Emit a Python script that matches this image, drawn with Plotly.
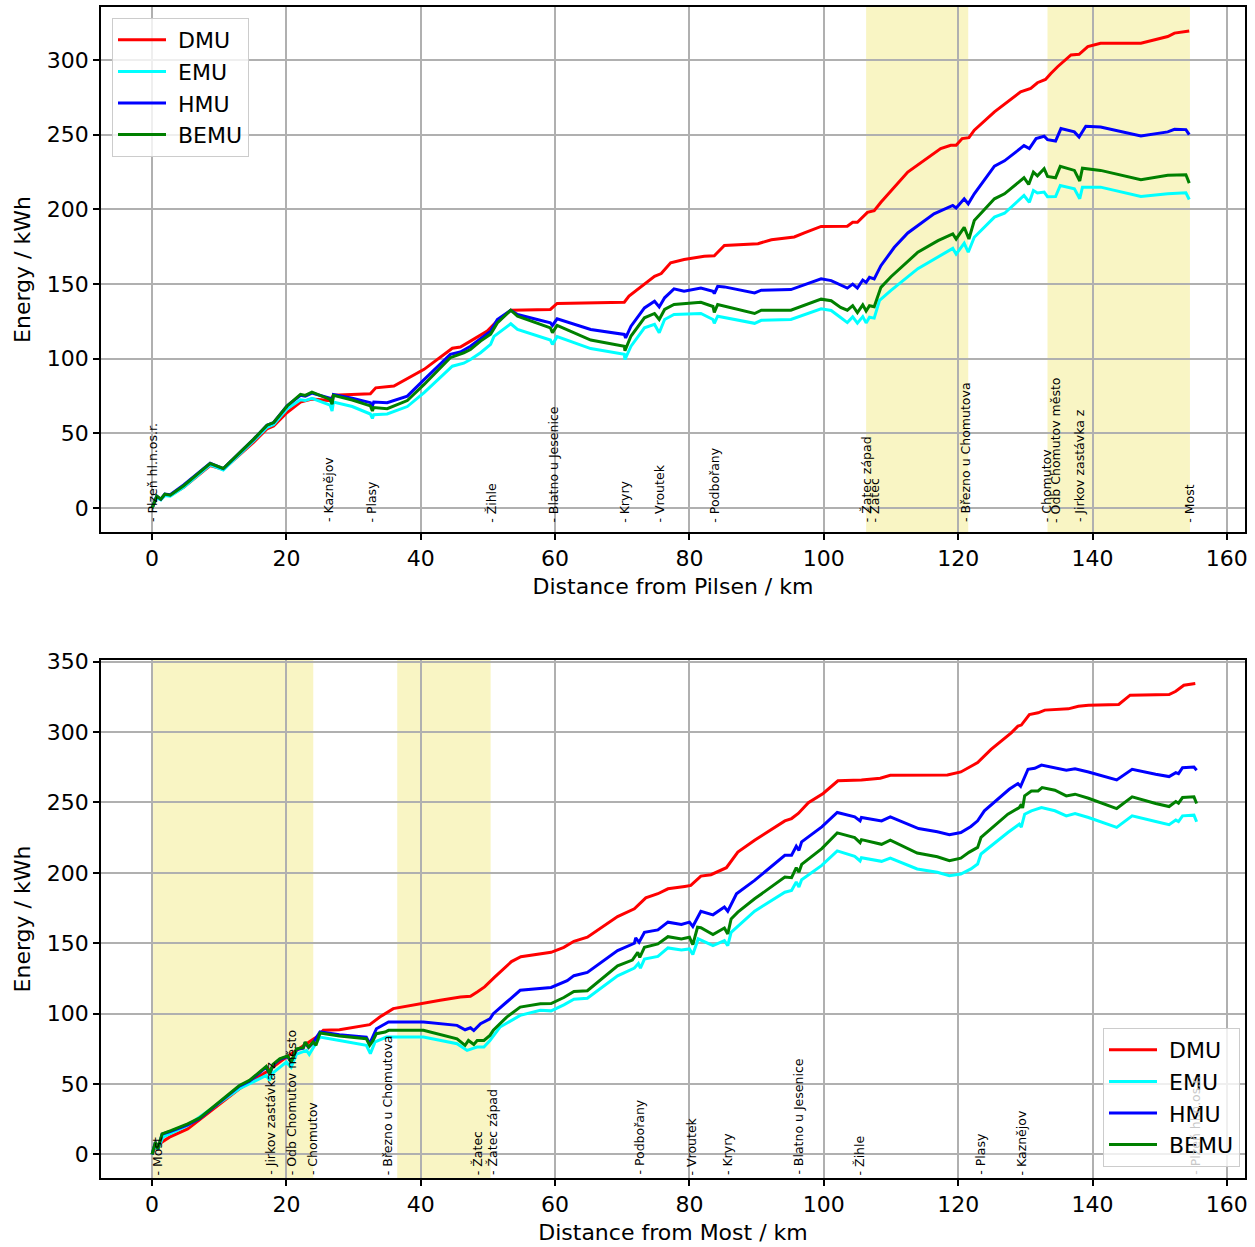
import plotly.graph_objects as go

# ---------------- Pilsen -> Most ----------------
pm_dmu_km = [0, 0.7, 1.3, 1.9, 2.7, 4.7, 8.65, 10.6, 15.1, 17.1, 18.1, 20.1, 22.1, 23.8, 26.5, 27.0, 32.5, 33.3,
             36, 40.5, 44.7, 45.9, 47.4, 49.9, 51.1, 53.4, 59.3, 60.3, 70.3, 71.0, 74.8, 75.8, 77.2, 79.2, 82.2,
             83.7, 85.2, 90.2, 92.2, 95.6, 97.1, 99.6, 103.5, 104.3, 105, 106.5, 107.5, 108.5, 112.5, 117.4,
             118.9, 119.7, 120.6, 121.6, 122.4, 125.4, 129.3, 130.8, 131.8, 133, 133.8, 134.8, 136.8, 138,
             139.3, 141.2, 147.2, 151.2, 152.2, 154.4]
pm_dmu = [0, 7, 6, 8.5, 8.5, 14, 28.5, 26, 44, 53, 55, 64, 71, 73, 72, 75.5, 76.5, 80.5,
          81.7, 92.9, 107, 107.8, 111.8, 118.5, 124, 132.5, 133, 137, 137.8, 141.9, 155.2, 157, 164.2, 166.4, 168.6,
          169, 175.9, 177, 179.7, 181.5, 184.2, 188.6, 188.7, 191.4, 191.4, 198, 199.2, 204.8, 225, 240.7,
          242.9, 242.9, 247.4, 248, 253, 265.3, 278.7, 281, 284.8, 287, 291, 295.5, 303.4, 303.8,
          309, 311.2, 311.2, 315.7, 318, 319.5]

pm_emu_km = [0, 0.7, 1.3, 1.9, 2.7, 4.7, 8.65, 10.6, 15.1, 17.1, 18.1, 20.1, 22.1, 22.8, 23.8, 26.5, 26.8, 27.0,
             29.8, 32.5, 32.8, 33.0, 35, 38, 40.5, 44.7, 46.4, 47.4, 48.9, 50.4, 50.9, 53.4, 54.4, 59.3, 59.6,
             60.3, 65.3, 70.3, 70.4, 71.3, 73.3, 74.8, 75.5, 76.3, 77.7, 81.7, 83.5, 83.7, 84.2, 89.7, 90.7,
             95.1, 99.6, 101.1, 102.5, 103.5, 104.3, 105, 105.8, 106.3, 106.8, 107.5, 108.3, 110, 114, 117,
             119.2, 119.7, 120.9, 121.5, 122.4, 125.4, 126.9, 129.8, 130.6, 131.2, 131.8, 132.8, 133.3, 134.5,
             135.2, 137.3, 138.1, 138.5, 141.2, 147.2, 151.2, 153.9, 154.4]
pm_emu = [0, 7, 5.5, 8.5, 8, 14, 29, 25.5, 45, 54, 56, 66.5, 72.5, 72, 73.5, 69, 65, 71,
          68, 63, 60, 62.5, 63, 68, 77.3, 95, 97, 99.5, 104, 109.6, 115, 123.4, 119.6, 112.5, 109.6,
          114.8, 106.8, 103, 99.5, 108.4, 120.7, 123, 117.4, 126.3, 129.6, 130.3, 126.3, 123.7, 128.5, 123.7, 125.7,
          126.3, 133.4, 132.3, 127.6, 124.2, 128, 123.8, 128.2, 124, 127.8, 127.2, 139.1, 145.8, 160.3, 168.2,
          173.9, 170.1, 177.3, 171.3, 181.3, 194.8, 197.4, 209.3, 204.8, 212.7, 211, 211.6, 208.5, 208.6,
          216, 213.8, 207.1, 214.9, 214.9, 208.6, 210.4, 211.1, 206.6]

pm_hmu_km = [0, 0.7, 1.3, 1.9, 2.7, 4.7, 8.65, 10.6, 15.1, 17.1, 18.1, 20.1, 22.1, 22.8, 23.8, 26.5, 26.8, 27.0,
             29.8, 32.5, 32.7, 33.0, 35, 38, 40.5, 44.4, 45.9, 47.4, 50.4, 51.4, 53.4, 54.4, 59.3, 59.6, 60.3,
             65.3, 70.3, 70.5, 71.3, 73.3, 74.8, 75.5, 76.3, 77.7, 79.2, 81.7, 83.5, 83.7, 84.2, 85.2, 89.7,
             90.7, 95.1, 97.1, 99.6, 101.1, 103.5, 104.3, 105, 105.8, 106.3, 106.8, 107.5, 108.5, 110.5, 112.5,
             114.4, 116.4, 119.2, 119.7, 120.9, 121.5, 122.4, 125.4, 126.9, 129.8, 130.6, 131.6, 132.8, 133.3,
             134.5, 135.3, 137.3, 138, 139, 141.2, 147.2, 151.2, 152.2, 153.9, 154.4]
pm_hmu = [0, 8, 6, 9.4, 9, 15.5, 30, 26.5, 46, 55.5, 57.3, 68.4, 75.5, 75, 77, 73.5, 70, 76,
          73.5, 70.6, 67, 71, 70.6, 75, 86, 102.9, 104.5, 108.4, 118.5, 126.3, 132.5, 129.6, 124, 122.3, 126.7,
          119.6, 116.3, 114, 121.8, 134, 138.5, 134.7, 140.8, 146.8, 145.2, 147.4, 145.2, 143.6, 148.5, 148.1, 144.1,
          145.9, 146.3, 149.7, 153.5, 152.3, 147.3, 150, 147.3, 152.7, 151.1, 154.5, 153.4, 162.3, 174.6, 184.2,
          190.7, 197, 202.6, 201, 207.1, 203.7, 210.4, 229, 232.5, 242.7, 240.7, 247.4, 249, 246.7,
          245.8, 254.1, 251.9, 248.5, 255.7, 255.2, 249.2, 251.9, 253.6, 253.4, 250]

pm_bemu_km = [0, 0.7, 1.3, 1.9, 2.7, 4.7, 8.65, 10.6, 15.1, 17.1, 18.1, 20.1, 22.1, 22.8, 23.8, 26.5, 26.8, 27.0,
              29.8, 32.5, 32.8, 33.0, 35, 38, 40.5, 44.4, 46.4, 47.4, 48.9, 50.4, 51.4, 53.4, 54.4, 59.3, 59.6,
              60.3, 65.3, 70.3, 70.4, 71.3, 73.3, 74.8, 75.5, 76.3, 77.7, 81.7, 83.5, 83.7, 84.2, 89.7, 90.7,
              95.1, 99.6, 101.1, 102.5, 103.5, 104.3, 105, 105.8, 106.3, 106.8, 107.5, 108.5, 110, 114, 117,
              119.2, 119.7, 120.9, 121.6, 122.4, 125.4, 126.9, 129.8, 130.5, 131.2, 131.8, 132.8, 133.3, 134.5,
              135.2, 137.3, 138.1, 138.5, 141.2, 147.2, 151.2, 153.9, 154.4]
pm_bemu = [0, 8, 6, 9.4, 8.7, 15, 29.9, 26.5, 46, 55.5, 57.3, 68.4, 76.2, 75.5, 77.7, 72.8, 69.5, 75.5,
           72.4, 68.4, 65, 67.3, 66.6, 72, 82.8, 100.7, 104, 106.2, 111.8, 116.5, 124, 132.5, 128.5, 120.7, 117.5,
           122.3, 112.5, 108.4, 105.4, 115.2, 127.4, 130.3, 126.3, 133, 136.3, 137.8, 135, 131, 136.3, 130.3, 132.5,
           132.5, 139.9, 138.8, 134.3, 132.5, 135.5, 130.9, 136.1, 132, 135.5, 134.8, 147.8, 154.9, 171.3, 179.1,
           183.6, 180.2, 188, 180.2, 192.5, 207.1, 210.4, 221.2, 216.7, 225, 222.5, 227.2, 222.1, 221.2,
           228.8, 226.1, 219, 227.6, 226.1, 219.8, 222.8, 223.2, 217.6]

pm_stations = ["Plzeň hl.n.os.r.", "Kaznějov", "Plasy", "Žihle", "Blatno u Jesenice", "Kryry", "Vroutek",
               "Podbořany", "Žatec západ", "Žatec", "Březno u Chomutova", "Chomutov", "Odb Chomutov město",
               "Jirkov zastávka z", "Most"]
pm_station_km = [0, 26.2, 32.6, 50.5, 59.7, 70.3, 75.6, 83.6, 106.4, 107.6, 121.1, 133.1, 134.4, 138.0, 154.4]
pm_spans = [(106.3, 121.5), (133.3, 154.5)]

# ---------------- Most -> Pilsen ----------------
mp_dmu_km = [0, 0.5, 0.85, 1.1, 2.6, 5.3, 13, 17, 20, 24.5, 25.5, 27.9, 32.4, 33.9, 35.9, 39.9, 42.9, 45.9,
             47.4, 48.4, 49.5, 51, 52.5, 53.5, 54.9, 57, 59.4, 61.3, 62.8, 64.8, 69.3, 71.8, 73.5, 75.3, 76.8,
             79.3, 80.2, 81.7, 83.2, 85.5, 87.2, 89.7, 94.2, 95.2, 96.2, 97.7, 99.9, 102.1, 105.6, 108.4, 109.9,
             118.4, 120.4, 122.9, 123.4, 124.9, 127.9, 128.9, 129.4, 130.6, 131.9, 132.9, 136.4, 137.9, 139.4,
             143.9, 145.6, 151.4, 152.4, 153.6, 155.3]
mp_dmu = [0, 6, 3, 7.6, 12.3, 18.2, 46.7, 58.5, 69.2, 83.4, 88.2, 88.6, 92.2, 97.6, 103.6, 107.1, 109.5, 111.8,
          112.3, 115.4, 119, 126, 133, 137, 140.5, 142, 143.6, 147.1, 151.4, 154.3, 169, 174.5, 182.3, 185.2, 188.7,
          190.4, 191.1, 197.7, 198.7, 203.7, 214.8, 223.2, 236.9, 238.6, 242.2, 249.8, 256.4, 265.4, 265.9, 267.2, 269.3,
          269.6, 271.7, 278.3, 280.6, 287.7, 299.5, 304.2, 305, 312.5, 313.7, 315.6, 316.5, 318.4, 319.1,
          319.6, 326.2, 326.7, 329, 333.3, 334.5]

mp_emu_km = [0, 0.5, 0.85, 1.6, 5.3, 13, 17, 17.5, 18, 20, 20.7, 21.5, 23, 23.4, 24.2, 25, 27.9, 31.9, 32.5,
             33.2, 34.9, 40.4, 45.4, 46.9, 47.9, 48.4, 49.4, 50.3, 51.8, 54.8, 57.8, 59.4, 61.3, 62.8, 64.8, 69.3,
             71.8, 72.4, 72.7, 73.3, 75.3, 76.8, 78.8, 80, 80.5, 81.3, 83.5, 85.2, 85.7, 86.2, 89.7, 94.2, 95.2,
             95.9, 96.3, 96.7, 99.7, 102, 104.6, 105.4, 105.6, 108.6, 109.9, 113.9, 116.9, 118.7, 120.4, 121.9,
             122.9, 123.4, 127.4, 129.1, 129.4, 129.9, 130.9, 132.4, 134.4, 136.1, 137.4, 139.4, 143.6, 145.9,
             149.4, 151.4, 152.4, 152.8, 153.4, 155.1, 155.5]
mp_emu = [0, 7, 3.5, 12.3, 20.6, 46.7, 56.2, 52.6, 58, 65.6, 62, 71.3, 73.9, 71, 77.5, 83.4, 81, 77.5, 71.6,
          79.9, 83.4, 83.4, 78.7, 73.9, 75.5, 76.3, 76.3, 81, 90.5, 98.8, 102.4, 102, 106.3, 110.3, 111, 126.9,
          132.4, 135.7, 132.4, 138.8, 140.7, 146.7, 145.2, 146, 142, 153.1, 148.3, 151.9, 148.3, 157.8, 172.8, 186.3, 187.5,
          193.5, 190, 195.1, 205.3, 215.6, 211.8, 208.5, 210.8, 208.2, 210.5, 202.8, 200.4, 198, 199.2, 202.8,
          206.3, 213.4, 228.7, 234.6, 232.5, 241.7, 244.1, 246.4, 244.1, 240.5, 242.2, 239.3, 232.3, 240.5,
          236.5, 234.2, 237.5, 236.5, 240.5, 241, 236.3]

mp_hmu_km = [0, 0.5, 0.85, 1.5, 2.8, 5.3, 7.1, 13, 14.5, 17, 17.5, 18, 19, 20.2, 20.7, 21.5, 22.5, 22.8, 23.3,
             24, 25, 27.9, 31.9, 32.4, 33.4, 35.2, 40.4, 45.4, 46.6, 47.4, 47.9, 48.9, 50.3, 50.8, 52.8, 54.8,
             59.4, 61.8, 62.8, 64.8, 69.3, 71.8, 72, 72.5, 73.3, 75.3, 76.8, 78.8, 80, 80.5, 81.7, 83.5, 85.2,
             85.7, 87, 89.7, 94.2, 95.2, 95.9, 96.3, 96.7, 99.7, 102, 104.6, 105.4, 105.6, 108.6, 109.9, 114.1,
             116.9, 118.7, 120.4, 121.9, 122.9, 123.9, 127.6, 128.9, 129.3, 130.4, 131.4, 132.4, 134.4, 136.1,
             137.4, 139.4, 143.6, 145.9, 149.4, 151.4, 152.4, 152.8, 153.4, 155.1, 155.5]
mp_hmu = [0, 8.8, 4, 14.5, 16.5, 21, 25.5, 48.5, 52, 62, 57, 63.5, 67.5, 69.5, 65.5, 74.5, 75.5, 79.5, 76,
          79.5, 87, 85, 83.4, 78.7, 89.3, 94.1, 94.1, 91.7, 88.6, 90, 88, 92.9, 96.4, 100, 108.3, 116.6,
          118.6, 123.4, 127, 129.3, 144.8, 150, 153.8, 150.7, 157.8, 159.5, 165, 163.3, 165, 161.9, 172.8, 170.2, 175.7,
          172.8, 185.2, 194.7, 212.5, 212.5, 218.9, 216, 222, 232.7, 242.9, 239.8, 236.9, 239.3, 236.9, 239.8, 231.5,
          229.2, 227.1, 228.7, 233, 237, 244.1, 259.4, 263.4, 261.5, 273.6, 274.3, 276.6, 274.7, 272.9,
          274, 271.7, 266, 273.6, 270, 268.4, 271.2, 270.5, 274.7, 275.2, 272.9]

mp_bemu_km = [0, 0.5, 0.85, 1.5, 2.8, 5.3, 7.1, 13, 14.5, 17, 17.5, 18, 19, 20.2, 20.7, 21.5, 22.5, 22.8, 23.3,
              24, 24.4, 25, 27.9, 31.9, 32.4, 32.9, 33.4, 34.7, 35.2, 40.4, 45.4, 46.6, 47.1, 47.9, 48.4, 49.4,
              50.3, 50.8, 52.8, 54.8, 57.8, 59.4, 61.3, 62.8, 64.8, 69.3, 71.5, 72.3, 72.6, 73.3, 75.3, 76.8, 78.8,
              80, 80.5, 81.2, 81.7, 83.5, 85.2, 85.7, 86.2, 87.2, 89.7, 94.2, 95.2, 95.9, 96.3, 96.7, 99.7, 102,
              104.6, 105.4, 105.6, 108.6, 109.9, 113.9, 116.9, 118.7, 120.4, 121.6, 122.9, 123.4, 127.4, 129.1,
              129.4, 129.6, 129.9, 130.9, 131.9, 132.5, 134.4, 136.1, 137.4, 139.4, 143.6, 145.9, 149.4, 151.4,
              152.4, 152.8, 153.4, 155.1, 155.5]
mp_bemu = [0, 8.8, 4, 14.7, 17, 21.8, 26, 49, 52.6, 62.6, 57.3, 64, 68, 70, 65.6, 75, 75.8, 79.9, 76.3,
           79.9, 77.5, 86.3, 84.1, 82.2, 77.5, 81, 85.8, 87, 88.2, 88.2, 82.2, 77.5, 81, 78.2, 81, 81,
           84.6, 88.2, 97.6, 104.7, 107.1, 107.2, 111.5, 115.8, 116.3, 134, 138.1, 143.6, 140, 147.1, 149.5, 154.7, 153.1,
           154.3, 149, 161.4, 161, 156.2, 160.9, 156.6, 167.3, 172.1, 181.6, 197, 196.6, 203.7, 200.5, 206, 217.2, 228.4,
           225.1, 221.5, 223.6, 220.3, 223.2, 214.1, 211.5, 208.7, 210.5, 214.6, 218.1, 225.2, 241.7, 246.4,
           248.8, 246, 254.7, 258.2, 258.2, 260.6, 258.7, 254.7, 255.9, 253, 245.7, 254, 249.3, 247.1,
           250.7, 249.5, 253.5, 254, 249.3]

mp_stations = ["Most", "Jirkov zastávka z", "Odb Chomutov město", "Chomutov", "Březno u Chomutova", "Žatec",
               "Žatec západ", "Podbořany", "Vroutek", "Kryry", "Blatno u Jesenice", "Žihle", "Plasy", "Kaznějov",
               "Plzeň hl.n.os.r."]
mp_station_km = [0.8, 17.6, 20.8, 23.9, 35.0, 48.4, 50.6, 72.5, 80.3, 85.6, 96.1, 105.3, 123.2, 129.5, 155.3]
mp_spans = [(0.15, 24.0), (36.5, 50.4)]

unit_names = ["DMU", "EMU", "HMU", "BEMU"]
unit_colors = ["#ff0000", "#00ffff", "#0000ff", "#008000"]

FONT = "DejaVu Sans"
W, H = 1255, 1247
NBSP = "\u00a0"

fig = go.Figure()

top_series = [(pm_dmu_km, pm_dmu), (pm_emu_km, pm_emu), (pm_hmu_km, pm_hmu), (pm_bemu_km, pm_bemu)]
bot_series = [(mp_dmu_km, mp_dmu), (mp_emu_km, mp_emu), (mp_hmu_km, mp_hmu), (mp_bemu_km, mp_bemu)]

# a non-breaking space widens the gap between the legend line and its label
for name, color, (xs, ys) in zip(unit_names, unit_colors, top_series):
    fig.add_trace(go.Scatter(x=xs, y=ys, mode="lines", name=NBSP + name, xaxis="x", yaxis="y",
                             line=dict(color=color, width=3), legend="legend"))
for name, color, (xs, ys) in zip(unit_names, unit_colors, bot_series):
    fig.add_trace(go.Scatter(x=xs, y=ys, mode="lines", name=NBSP + name, xaxis="x2", yaxis="y2",
                             line=dict(color=color, width=3), legend="legend2"))

shapes = []
for xref, yref, spans in (("x", "y domain", pm_spans), ("x2", "y2 domain", mp_spans)):
    for a, b in spans:
        shapes.append(dict(type="rect", xref=xref, yref=yref, x0=a, x1=b, y0=0, y1=1,
                           fillcolor="rgb(249,245,196)", line=dict(width=0), layer="below"))

annotations = []
for xref, yref, names, kms, ybase in (("x", "y", pm_stations, pm_station_km, -11),
                                      ("x2", "y2", mp_stations, mp_station_km, -16)):
    for n, k in zip(names, kms):
        # the last label of the lower panel sits under the semi-transparent legend
        covered = (xref == "x2" and k > 150)
        annotations.append(dict(x=k, y=ybase, xref=xref, yref=yref, text="- " + n, showarrow=False,
                                textangle=-90, xanchor="center", yanchor="bottom",
                                font=dict(family=FONT, size=12.5,
                                          color="rgb(200,200,200)" if covered else "black")))

axis_common = dict(showline=True, linecolor="black", linewidth=1.5, mirror=True,
                   ticks="outside", ticklen=6, tickwidth=1.5, tickcolor="black",
                   showgrid=True, gridcolor="#b0b0b0", gridwidth=2, zeroline=False, automargin=False,
                   tickfont=dict(family=FONT, size=22, color="black"))

title_font = dict(family=FONT, size=22, color="black")
legend_common = dict(bgcolor="rgba(255,255,255,0.8)", bordercolor="#cccccc", borderwidth=1,
                     itemwidth=48, font=dict(family=FONT, size=22, color="black"))

fig.update_layout(
    width=W, height=H, autosize=False,
    margin=dict(l=0, r=0, t=0, b=0, autoexpand=False),
    paper_bgcolor="white", plot_bgcolor="white",
    font=dict(family=FONT, color="black"),
    xaxis=dict(domain=[101 / W, 1245 / W], anchor="y", range=[-7.6, 162.7], dtick=20,
               title=dict(text="Distance from Pilsen / km", font=title_font, standoff=8), **axis_common),
    yaxis=dict(domain=[1 - 532 / H, 1 - 7 / H], anchor="x", range=[-16, 335.5], dtick=50,
               title=dict(text="Energy / kWh", font=title_font, standoff=10), **axis_common),
    xaxis2=dict(domain=[101 / W, 1245 / W], anchor="y2", range=[-7.6, 162.7], dtick=20,
                title=dict(text="Distance from Most / km", font=title_font, standoff=8), **axis_common),
    yaxis2=dict(domain=[1 - 1178 / H, 1 - 660 / H], anchor="x2", range=[-16.7, 351.2], dtick=50,
                title=dict(text="Energy / kWh", font=title_font, standoff=10), **axis_common),
    legend=dict(x=112 / W, y=1 - 18 / H, xanchor="left", yanchor="top", **legend_common),
    legend2=dict(x=1240 / W, y=1 - 1167 / H, xanchor="right", yanchor="bottom", **legend_common),
    shapes=shapes,
    annotations=annotations,
)

fig.write_html("out.html")
